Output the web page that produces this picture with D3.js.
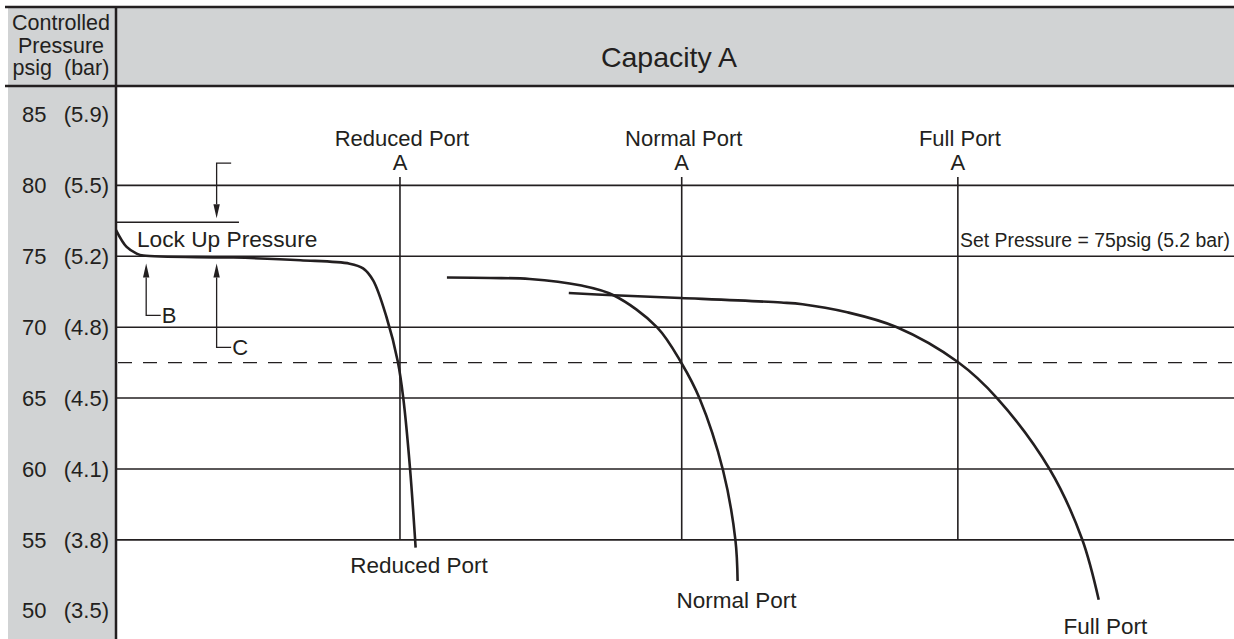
<!DOCTYPE html>
<html>
<head>
<meta charset="utf-8">
<script src="https://cdn.jsdelivr.net/npm/d3@7"></script>
<style>
  html, body { margin: 0; padding: 0; background: #fff; }
  svg { display: block; }
  text { font-family: "Liberation Sans", Arial, Helvetica, sans-serif; fill: #231f20; }
</style>
</head>
<body>
<svg id="chart" width="1234" height="639"></svg>
<script>
// ---------------- DATA ----------------
const title = "Capacity A";
const headerLines = ["Controlled", "Pressure", "psig  (bar)"];
const psiTicks = [85, 80, 75, 70, 65, 60, 55, 50];
const barTicks = ["(5.9)", "(5.5)", "(5.2)", "(4.8)", "(4.5)", "(4.1)", "(3.8)", "(3.5)"];
const gridPsi = [80, 75, 70, 65, 60, 55];
const dashedPsi = 67.5;              // droop limit line
const lockUpPsi = 77.4;              // lock up pressure level
const setPressureLabel = "Set Pressure = 75psig (5.2 bar)";

// capacity in relative units (0-100 across the plot)
const portNames = ["Reduced Port", "Normal Port", "Full Port"];
const portCapacityA = [25.4, 50.6, 75.3];   // capacity "A" at droop line
const portLineTopPsi = 80.6;

const reducedCap = [0, 0.95, 1.85, 2.45, 10.5, 16.5, 20.9, 22.1, 23.0, 24.2, 25.2, 25.7, 26.3, 26.8];
const reducedPsi = [76.85, 75.66, 75.19, 75.05, 74.91, 74.72, 74.48, 74.15, 73.3, 70.7, 67.6, 64.97, 60.03, 54.45];
const normalCap = [29.6, 33.5, 37.0, 41.5, 44.5, 48.4, 50.6, 52.2, 54.3, 55.4, 55.6];
const normalPsi = [73.5, 73.47, 73.4, 72.95, 72.25, 69.99, 67.44, 64.97, 59.89, 55.01, 52.1];
const fullCap = [40.5, 44.5, 50.5, 59.5, 61.4, 65.3, 69.8, 75.3, 78.8, 83.5, 86.4, 87.9];
const fullPsi = [72.41, 72.25, 72.06, 71.74, 71.62, 71.07, 70.01, 67.54, 65.0, 60.0, 55.08, 50.78];

const endLabelCap = [27.1, 55.5, 88.5];
const endLabelPsi = [52.67, 50.19, 48.36];

// annotation arrows (capacity, psi)
const lockArrow = { cap: 9.0, fromPsi: 81.57, toPsi: 77.69, stubTo: 10.3 };
const bArrow = { cap: 2.7, fromPsi: 70.83, toPsi: 74.5, stubTo: 4.0, label: "B" };
const cArrow = { cap: 9.0, fromPsi: 68.57, toPsi: 74.5, stubTo: 10.3, label: "C" };
const lockLineEndCap = 11.0;
const lockLabel = "Lock Up Pressure";

// ---------------- LAYOUT ----------------
const W = 1234, H = 639;
const ink = "#231f20", gray = "#d1d3d4";
const frameTop = 7, headerBottom = 86, leftEdge = 8, divider = 116;

const x = d3.scaleLinear().domain([0, 100]).range([divider, W]);
const y = d3.scaleLinear().domain([50, 85]).range([610.75, 114.5]);

const svg = d3.select("#chart");

// gray backgrounds
svg.append("rect").attr("x", leftEdge).attr("y", frameTop).attr("width", W - leftEdge).attr("height", headerBottom - frameTop).attr("fill", gray);
svg.append("rect").attr("x", leftEdge).attr("y", headerBottom).attr("width", divider - leftEdge).attr("height", H - headerBottom).attr("fill", gray);

// frame lines
svg.append("line").attr("x1", 5).attr("x2", W).attr("y1", frameTop).attr("y2", frameTop).attr("stroke", ink).attr("stroke-width", 2.5);
svg.append("line").attr("x1", 5).attr("x2", W).attr("y1", headerBottom).attr("y2", headerBottom).attr("stroke", ink).attr("stroke-width", 2.5);
svg.append("line").attr("x1", divider).attr("x2", divider).attr("y1", frameTop).attr("y2", H).attr("stroke", ink).attr("stroke-width", 2.5);

// header text
svg.append("g").selectAll("text").data(headerLines).join("text")
  .attr("x", 61).attr("y", (d, i) => 30 + i * 22.5)
  .attr("text-anchor", "middle").attr("font-size", 21.5)
  .style("white-space", "pre").attr("xml:space", "preserve")
  .text(d => d);
svg.append("text").attr("x", (divider + W) / 2 - 6).attr("y", 57).attr("dy", "0.35em")
  .attr("text-anchor", "middle").attr("font-size", 28.5).text(title);

// y tick labels
const tickG = svg.append("g");
tickG.selectAll("text.psi").data(psiTicks).join("text").attr("class", "psi")
  .attr("x", 22).attr("y", d => y(d)).attr("dy", "0.35em").attr("font-size", 22).text(d => d);
tickG.selectAll("text.bar").data(psiTicks).join("text").attr("class", "bar")
  .attr("x", 109).attr("y", d => y(d)).attr("dy", "0.35em").attr("text-anchor", "end").attr("font-size", 22)
  .text((d, i) => barTicks[i]);

// gridlines
svg.append("g").selectAll("line").data(gridPsi).join("line")
  .attr("x1", divider).attr("x2", W).attr("y1", d => y(d)).attr("y2", d => y(d))
  .attr("stroke", ink).attr("stroke-width", 1.6);

// dashed line
svg.append("line").attr("x1", divider + 2).attr("x2", W).attr("y1", y(dashedPsi)).attr("y2", y(dashedPsi))
  .attr("stroke", ink).attr("stroke-width", 1.3).attr("stroke-dasharray", "14,11");

// port reference lines and labels
const portG = svg.append("g");
portG.selectAll("line").data(portCapacityA).join("line")
  .attr("x1", d => x(d)).attr("x2", d => x(d)).attr("y1", y(portLineTopPsi)).attr("y2", y(55))
  .attr("stroke", ink).attr("stroke-width", 1.6);
portG.selectAll("text.pn").data(portCapacityA).join("text").attr("class", "pn")
  .attr("x", d => x(d) + 2).attr("y", 146).attr("text-anchor", "middle").attr("font-size", 22)
  .text((d, i) => portNames[i]);
portG.selectAll("text.pa").data(portCapacityA).join("text").attr("class", "pa")
  .attr("x", d => x(d)).attr("y", 170).attr("text-anchor", "middle").attr("font-size", 22)
  .text("A");

// curves
const line = d3.line().x(d => x(d[0])).y(d => y(d[1])).curve(d3.curveCatmullRom.alpha(0.5));
const series = [
  reducedCap.map((c, i) => [c, reducedPsi[i]]),
  normalCap.map((c, i) => [c, normalPsi[i]]),
  fullCap.map((c, i) => [c, fullPsi[i]])
];
svg.append("g").selectAll("path").data(series).join("path")
  .attr("d", line).attr("fill", "none").attr("stroke", ink).attr("stroke-width", 2.6);

// end labels
svg.append("g").selectAll("text").data(endLabelCap).join("text")
  .attr("x", d => x(d)).attr("y", (d, i) => y(endLabelPsi[i])).attr("text-anchor", "middle").attr("font-size", 22.5)
  .text((d, i) => portNames[i]);

// lock up line and label
svg.append("line").attr("x1", x(0)).attr("x2", x(lockLineEndCap)).attr("y1", y(lockUpPsi)).attr("y2", y(lockUpPsi))
  .attr("stroke", ink).attr("stroke-width", 1.6);
svg.append("text").attr("x", 137).attr("y", 247).attr("font-size", 22.7).text(lockLabel);

// set pressure label
svg.append("text").attr("x", 960).attr("y", 247).attr("font-size", 19.4).text(setPressureLabel);

// arrows
function arrow(a) {
  const g = svg.append("g");
  const xa = x(a.cap), y0 = y(a.fromPsi), y1 = y(a.toPsi);
  const dir = y1 > y0 ? 1 : -1;
  const headLen = 14, headW = 3.2;
  g.append("path")
    .attr("d", `M${x(a.stubTo)},${y0}H${xa}V${y1 - dir * headLen}`)
    .attr("fill", "none").attr("stroke", ink).attr("stroke-width", 1.3);
  g.append("path")
    .attr("d", `M${xa - headW},${y1 - dir * headLen}L${xa + headW},${y1 - dir * headLen}L${xa},${y1}Z`)
    .attr("fill", ink);
  if (a.label) {
    g.append("text").attr("x", x(a.stubTo) + 1).attr("y", y0).attr("dy", "0.36em")
      .attr("font-size", 22).text(a.label);
  }
}
arrow(lockArrow);
arrow(bArrow);
arrow(cArrow);
</script>
</body>
</html>
